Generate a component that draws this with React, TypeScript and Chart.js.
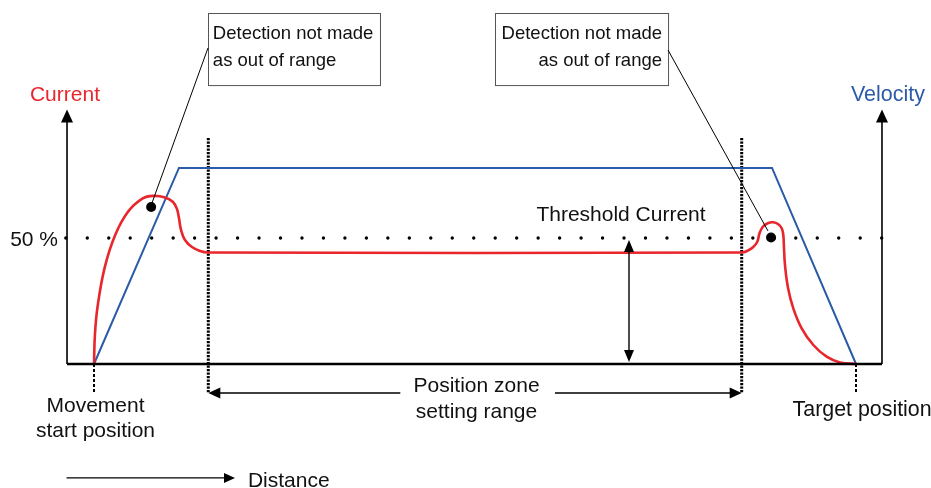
import { useEffect, useRef } from "react";
import { Chart, registerables } from "chart.js";
Chart.register(...registerables);

// Units: x = distance (movement start = 0, target position = 100); y = current / velocity in %
const startPos = 0;
const targetPos = 100;
const zoneStart = 15;
const zoneEnd = 85;
const thresholdPct = 50;

const velocityX = [0, 11.15, 88.98, 100];
const velocityY = [0, 77.8, 77.8, 0];

const currentX = [0, 0.12, 0.47, 1.4, 2.77, 4.46, 6.39, 7.74, 9.32, 10.37, 10.89, 11.15, 11.42, 11.94, 12.86, 13.91, 14.96, 85.04, 85.7, 86.48, 87.05, 87.34, 87.8, 88.49, 89.15, 89.8, 90.25, 90.46, 90.55, 90.68, 91.08, 91.77, 92.87, 94.4, 96.15, 97.9, 100];
const currentY = [0, 11.6, 22.8, 38.25, 51.1, 60.4, 65.7, 66.7, 66.1, 64.3, 61.5, 57.9, 53.2, 49.2, 46.4, 44.85, 44.25, 44.25, 44.84, 46.31, 48.53, 51.87, 54.56, 55.95, 56.23, 55.44, 53.85, 51.19, 46.03, 39.29, 30.16, 22.1, 14.17, 7.54, 2.9, 0.6, 0];

const detectX = [7.5, 88.85];
const detectY = [62.3, 50.2];

const axisLeft = -3.54;
const axisRight = 103.41;
const axisTop = 101;

const RED = "#e8262c";
const BLUE = "#2b5ba8";
const FONT = '"Liberation Sans", Arial, sans-serif';

const pts = (xs: number[], ys: number[]) => xs.map((x, i) => ({ x, y: ys[i] }));

function arrowHead(ctx: CanvasRenderingContext2D, tx: number, ty: number, dx: number, dy: number, len = 12, hw = 5.5) {
  const n = Math.hypot(dx, dy);
  const ux = dx / n, uy = dy / n;
  const bx = tx - ux * len, by = ty - uy * len;
  ctx.beginPath();
  ctx.moveTo(tx, ty);
  ctx.lineTo(bx - uy * hw, by + ux * hw);
  ctx.lineTo(bx + uy * hw, by - ux * hw);
  ctx.closePath();
  ctx.fill();
}

const annotate = {
  id: "annotate",
  beforeDraw(chart: any) {
    const c = chart.ctx;
    c.save();
    c.fillStyle = "#fff";
    c.fillRect(0, 0, chart.width, chart.height);
    c.restore();
  },
  beforeDatasetsDraw(chart: any) {
    const c: CanvasRenderingContext2D = chart.ctx;
    const X = (v: number) => chart.scales.x.getPixelForValue(v);
    const Y = (v: number) => chart.scales.y.getPixelForValue(v);
    c.save();
    c.strokeStyle = "#000";
    c.fillStyle = "#000";
    // axes
    c.lineWidth = 1.6;
    c.beginPath();
    c.moveTo(X(axisLeft), Y(0));
    c.lineTo(X(axisLeft), Y(axisTop) + 10);
    c.moveTo(X(axisRight), Y(0));
    c.lineTo(X(axisRight), Y(axisTop) + 10);
    c.stroke();
    arrowHead(c, X(axisLeft), Y(axisTop), 0, -1, 13, 6);
    arrowHead(c, X(axisRight), Y(axisTop), 0, -1, 13, 6);
    // start / target ticks
    c.lineWidth = 2;
    c.setLineDash([3, 2]);
    c.beginPath();
    c.moveTo(X(startPos), Y(0));
    c.lineTo(X(startPos), Y(-11.5));
    c.moveTo(X(targetPos), Y(0));
    c.lineTo(X(targetPos), Y(-11.5));
    c.stroke();
    // zone lines
    c.lineWidth = 3;
    c.setLineDash([2.2, 1.3]);
    c.beginPath();
    c.moveTo(X(zoneStart), Y(89.7));
    c.lineTo(X(zoneStart), Y(-11.5));
    c.moveTo(X(zoneEnd), Y(89.7));
    c.lineTo(X(zoneEnd), Y(-11.5));
    c.stroke();
    c.setLineDash([]);
    // threshold dots
    c.lineWidth = 3.4;
    c.lineCap = "round";
    c.setLineDash([0, 21.47]);
    c.beginPath();
    c.moveTo(X(-3.7), Y(thresholdPct));
    c.lineTo(X(103.4), Y(thresholdPct));
    c.stroke();
    c.setLineDash([]);
    c.lineCap = "butt";
    c.restore();
  },
  afterDatasetsDraw(chart: any) {
    const c: CanvasRenderingContext2D = chart.ctx;
    const X = (v: number) => chart.scales.x.getPixelForValue(v);
    const Y = (v: number) => chart.scales.y.getPixelForValue(v);
    c.save();
    c.strokeStyle = "#000";
    c.fillStyle = "#000";
    // baseline
    c.lineWidth = 2.4;
    c.beginPath();
    c.moveTo(X(axisLeft), Y(0));
    c.lineTo(X(axisRight), Y(0));
    c.stroke();
    // threshold double arrow
    c.lineWidth = 1.4;
    const ax = X(70.21);
    c.beginPath();
    c.moveTo(ax, Y(49.2) + 8);
    c.lineTo(ax, Y(0.8) - 8);
    c.stroke();
    arrowHead(c, ax, Y(49.2), 0, -1, 12, 5);
    arrowHead(c, ax, Y(0.8), 0, 1, 12, 5);
    // zone arrow
    const zy = Y(-11.5);
    c.beginPath();
    c.moveTo(X(zoneStart) + 8, zy);
    c.lineTo(X(40.2), zy);
    c.moveTo(X(60.5), zy);
    c.lineTo(X(zoneEnd) - 8, zy);
    c.stroke();
    arrowHead(c, X(zoneStart), zy, -1, 0, 12, 5.5);
    arrowHead(c, X(zoneEnd), zy, 1, 0, 12, 5.5);
    // distance arrow
    const dy = Y(-45.2);
    c.beginPath();
    c.moveTo(X(-3.6), dy);
    c.lineTo(X(18.5) - 8, dy);
    c.stroke();
    arrowHead(c, X(18.5), dy, 1, 0, 11, 5);
    // callout boxes
    c.lineWidth = 1;
    c.strokeStyle = "#555";
    c.strokeRect(Math.round(X(14.96)) + 0.5, Math.round(Y(139.3)) + 0.5, X(37.53) - X(14.96), Y(110.7) - Y(139.3));
    c.strokeRect(Math.round(X(52.62)) + 0.5, Math.round(Y(139.3)) + 0.5, X(75.33) - X(52.62), Y(110.7) - Y(139.3));
    c.strokeStyle = "#000";
    c.beginPath();
    c.moveTo(X(14.96), Y(125.4));
    c.lineTo(X(7.61), Y(63.9));
    c.moveTo(X(75.33), Y(124.6));
    c.lineTo(X(88.45), Y(52.8));
    c.stroke();
    // texts
    c.textBaseline = "middle";
    const txt = (s: string, x: number, y: number, align: CanvasTextAlign, color = "#111", size = 21) => {
      c.font = `${size}px ${FONT}`;
      c.fillStyle = color;
      c.textAlign = align;
      c.fillText(s, X(x), Y(y) + 2);
    };
    txt("Current", -3.81, 107.5, "center", RED);
    txt("Velocity", 104.2, 107.5, "center", BLUE, 21.5);
    txt("50 %", -4.72, thresholdPct, "right", "#111", 21);
    txt("Threshold Current", 69.16, 59.9, "center");
    txt("Detection not made", 15.6, 131.7, "left", "#111", 18.5);
    txt("as out of range", 15.6, 121.0, "left", "#111", 18.5);
    txt("Detection not made", 74.54, 131.7, "right", "#111", 18.5);
    txt("as out of range", 74.54, 121.0, "right", "#111", 18.5);
    txt("Position zone", 50.2, -8.0, "center");
    txt("setting range", 50.2, -18.4, "center");
    txt("Movement", 0.2, -16.0, "center");
    txt("start position", 0.2, -26.0, "center");
    txt("Target position", 100.8, -17.5, "center", "#111", 21.4);
    txt("Distance", 20.2, -45.6, "left");
    c.restore();
  },
};

export default function App() {
  const ref = useRef<HTMLCanvasElement>(null);
  useEffect(() => {
    document.body.style.margin = "0";
    const chart = new Chart(ref.current!, {
      type: "scatter",
      data: {
        datasets: [
          {
            data: pts(detectX, detectY),
            showLine: false,
            pointRadius: 5,
            pointBackgroundColor: "#000",
            pointBorderWidth: 0,
            order: 0,
          },
          {
            data: pts(currentX, currentY),
            showLine: true,
            borderColor: RED,
            borderWidth: 2.6,
            pointRadius: 0,
            tension: 0.4,
            order: 1,
          },
          {
            data: pts(velocityX, velocityY),
            showLine: true,
            borderColor: BLUE,
            borderWidth: 2,
            pointRadius: 0,
            tension: 0,
            order: 2,
          },
        ],
      },
      options: {
        animation: false,
        responsive: false,
        devicePixelRatio: 1,
        layout: { padding: 0, autoPadding: false },
        plugins: { legend: { display: false }, tooltip: { enabled: false } },
        scales: {
          x: { type: "linear", display: false, min: -94 / 7.62, max: 837 / 7.62 },
          y: { type: "linear", display: false, min: -124 / 2.52, max: 364 / 2.52 },
        },
      },
      plugins: [annotate],
    });
    return () => chart.destroy();
  }, []);
  return <canvas ref={ref} width={931} height={488} style={{ display: "block" }} />;
}
